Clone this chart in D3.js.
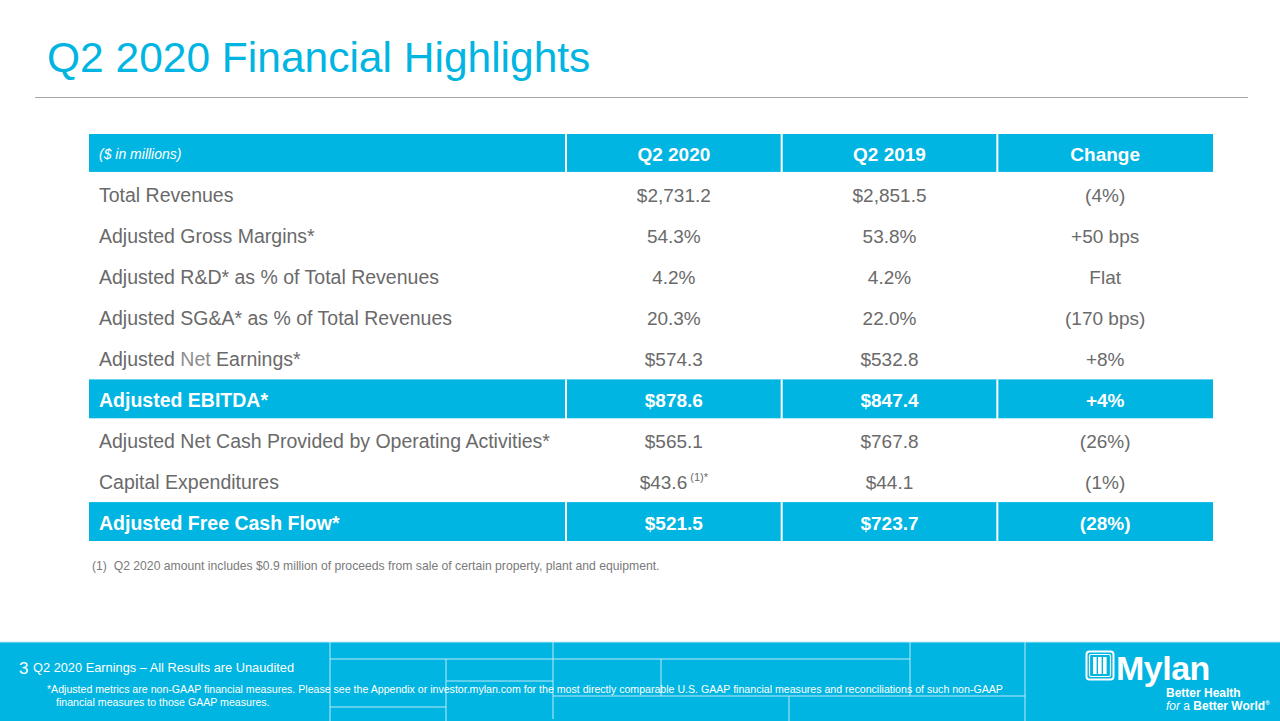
<!DOCTYPE html>
<html>
<head>
<meta charset="utf-8">
<script src="https://cdn.jsdelivr.net/npm/d3@7"></script>
<style>
  html, body { margin: 0; padding: 0; background: #ffffff; }
  svg { display: block; font-family: "Liberation Sans", Arial, Helvetica, sans-serif; }
</style>
</head>
<body>
<svg id="chart" width="1280" height="721"></svg>
<script>
// ---- data ----
const title = "Q2 2020 Financial Highlights";
const unitLabel = "($ in millions)";
const columns = ["Q2 2020", "Q2 2019", "Change"];
const rowLabels = [
  "Total Revenues",
  "Adjusted Gross Margins*",
  "Adjusted R&D* as % of Total Revenues",
  "Adjusted SG&A* as % of Total Revenues",
  "Adjusted Net Earnings*",
  "Adjusted EBITDA*",
  "Adjusted Net Cash Provided by Operating Activities*",
  "Capital Expenditures",
  "Adjusted Free Cash Flow*"
];
const q2_2020 = ["$2,731.2", "54.3%", "4.2%", "20.3%", "$574.3", "$878.6", "$565.1", "$43.6", "$521.5"];
const q2_2020Notes = ["", "", "", "", "", "", "", "(1)*", ""];
const q2_2019 = ["$2,851.5", "53.8%", "4.2%", "22.0%", "$532.8", "$847.4", "$767.8", "$44.1", "$723.7"];
const changes = ["(4%)", "+50 bps", "Flat", "(170 bps)", "+8%", "+4%", "(26%)", "(1%)", "(28%)"];
const highlightRows = ["Adjusted EBITDA*", "Adjusted Free Cash Flow*"];
const footnote = "(1)  Q2 2020 amount includes $0.9 million of proceeds from sale of certain property, plant and equipment.";
const pageNumber = "3";
const footerTitle = "Q2 2020 Earnings \u2013 All Results are Unaudited";
const footerNote1 = "*Adjusted metrics are non-GAAP financial measures. Please see the Appendix or investor.mylan.com for the most directly comparable U.S. GAAP financial measures and reconciliations of such non-GAAP";
const footerNote2 = "financial measures to those GAAP measures.";

// ---- styles ----
const CYAN = "#00b5e2";
const TEXT = "#6a6a6a";
const LIGHT = "#8e8e8e";

const svg = d3.select("#chart");

// Title
svg.append("text")
  .attr("x", 47).attr("y", 72)
  .attr("fill", CYAN)
  .attr("font-size", 42.5)
  .text(title);

svg.append("line")
  .attr("x1", 35).attr("x2", 1248)
  .attr("y1", 97.5).attr("y2", 97.5)
  .attr("stroke", "#a6a6a6").attr("stroke-width", 1.2);

// Table scales
const tableLeft = 89, tableRight = 1213, labelColRight = 566;
const rowKeys = ["__header__", ...rowLabels];
const y = d3.scaleBand().domain(rowKeys).range([134, 543]);
const x = d3.scaleBand().domain(columns).range([labelColRight, tableRight]);

const tableRows = rowLabels.map((label, i) => ({
  label,
  values: [q2_2020[i], q2_2019[i], changes[i]],
  notes: [q2_2020Notes[i], "", ""],
  highlight: highlightRows.includes(label)
}));

const g = svg.append("g");

// Filled bands: header + highlighted rows
const bandKeys = ["__header__", ...highlightRows];
g.selectAll("rect.band").data(bandKeys).join("rect")
  .attr("class", "band")
  .attr("x", tableLeft)
  .attr("y", d => y(d) + (d === "__header__" ? 0 : 0))
  .attr("width", tableRight - tableLeft)
  .attr("height", d => d === "__header__" ? y.bandwidth() - 3 : y.bandwidth() - 2)
  .attr("fill", CYAN);

// White separators inside bands
const sepXs = [labelColRight, ...columns.slice(1).map(c => x(c))];
bandKeys.forEach(k => {
  g.selectAll(null).data(sepXs).join("line")
    .attr("x1", d => d).attr("x2", d => d)
    .attr("y1", y(k)).attr("y2", y(k) + y.bandwidth())
    .attr("stroke", "#ffffff").attr("stroke-width", 2);
});

// Header texts
g.append("text")
  .attr("x", 99).attr("y", y("__header__") + 25)
  .attr("fill", "#ffffff").attr("font-size", 14).attr("font-style", "italic")
  .text(unitLabel);

g.selectAll("text.colhead").data(columns).join("text")
  .attr("class", "colhead")
  .attr("x", d => x(d) + x.bandwidth() / 2)
  .attr("y", y("__header__") + 27)
  .attr("text-anchor", "middle")
  .attr("fill", "#ffffff").attr("font-size", 19).attr("font-weight", "bold")
  .text(d => d);

// Row texts
const rowG = g.selectAll("g.row").data(tableRows).join("g")
  .attr("class", "row")
  .attr("transform", d => `translate(0,${y(d.label) + y.bandwidth() / 2 + 7})`);

rowG.append("text")
  .attr("x", 99)
  .attr("fill", d => d.highlight ? "#ffffff" : TEXT)
  .attr("font-size", 19.5)
  .attr("font-weight", d => d.highlight ? "bold" : "normal")
  .each(function (d) {
    const t = d3.select(this);
    if (d.label === "Adjusted Net Earnings*") {
      t.append("tspan").text("Adjusted ");
      t.append("tspan").attr("fill", LIGHT).text("Net");
      t.append("tspan").text(" Earnings*");
    } else {
      t.text(d.label);
    }
  });

rowG.each(function (d) {
  const r = d3.select(this);
  columns.forEach((c, j) => {
    const t = r.append("text")
      .attr("x", x(c) + x.bandwidth() / 2)
      .attr("text-anchor", "middle")
      .attr("fill", d.highlight ? "#ffffff" : TEXT)
      .attr("font-size", 19)
      .attr("font-weight", d.highlight ? "bold" : "normal");
    t.append("tspan").text(d.values[j]);
    if (d.notes[j]) {
      t.append("tspan").attr("font-size", 11).attr("dy", -8).text("\u00a0" + d.notes[j]);
    }
  });
});

// Footnote
svg.append("text")
  .attr("x", 92).attr("y", 570)
  .attr("fill", "#7a7a7a").attr("font-size", 12.2)
  .attr("xml:space", "preserve")
  .text(footnote);

// Footer band
const footerTop = 642;
svg.append("rect")
  .attr("x", 0).attr("y", footerTop).attr("width", 1280).attr("height", 721 - footerTop)
  .attr("fill", CYAN);

// Decorative footer grid lines
const footerLines = [
  [0, 642, 1280, 642],
  [330, 642, 330, 721], [446, 659, 446, 721], [553, 642, 553, 719],
  [661, 659, 661, 696], [910, 642, 910, 696], [1025, 642, 1025, 721], [789, 696, 789, 721],
  [330, 659, 910, 659], [446, 681, 553, 681], [553, 696, 1025, 696], [330, 707, 446, 707]
];
svg.append("g").selectAll("line").data(footerLines).join("line")
  .attr("x1", d => d[0]).attr("y1", d => d[1])
  .attr("x2", d => d[2]).attr("y2", d => d[3])
  .attr("stroke", "#bfeaf7").attr("stroke-width", 1);

svg.append("text").attr("x", 19).attr("y", 674)
  .attr("fill", "#ffffff").attr("font-size", 17).text(pageNumber);
svg.append("text").attr("x", 33).attr("y", 672)
  .attr("fill", "#ffffff").attr("font-size", 12.8).text(footerTitle);
svg.append("text").attr("x", 47).attr("y", 693)
  .attr("fill", "#ffffff").attr("font-size", 10.6).text(footerNote1);
svg.append("text").attr("x", 56).attr("y", 706)
  .attr("fill", "#ffffff").attr("font-size", 10.6).text(footerNote2);

// Logo
const logo = svg.append("g").attr("transform", "translate(1086,651)");
logo.append("rect").attr("x", 0.5).attr("y", 0.5).attr("width", 27).attr("height", 28).attr("rx", 3)
  .attr("fill", "none").attr("stroke", "#ffffff").attr("stroke-width", 2);
logo.append("rect").attr("x", 3.5).attr("y", 3.5).attr("width", 21).attr("height", 22).attr("rx", 1.5)
  .attr("fill", "none").attr("stroke", "#ffffff").attr("stroke-width", 1.2);
[7, 12, 17].forEach(bx => logo.append("rect").attr("x", bx).attr("y", 6).attr("width", 3.6).attr("height", 17).attr("fill", "#ffffff"));
svg.append("text").attr("x", 1116).attr("y", 680)
  .attr("fill", "#ffffff").attr("font-size", 34).attr("font-weight", "bold")
  .attr("letter-spacing", -0.5).text("Mylan");
svg.append("text").attr("x", 1166).attr("y", 697)
  .attr("fill", "#ffffff").attr("font-size", 12).attr("font-weight", "bold").text("Better Health");
const tag = svg.append("text").attr("x", 1166).attr("y", 710)
  .attr("fill", "#ffffff").attr("font-size", 12).attr("font-weight", "bold");
tag.append("tspan").attr("font-style", "italic").attr("font-weight", "normal").text("for");
tag.append("tspan").attr("font-weight", "normal").text(" a ");
tag.append("tspan").text("Better World");
tag.append("tspan").attr("font-size", 6).attr("dy", -5).text("\u00ae");
</script>
</body>
</html>
